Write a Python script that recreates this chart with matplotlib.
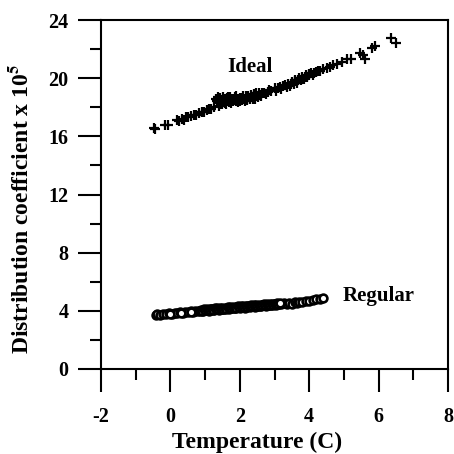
import numpy as np
import matplotlib
matplotlib.use('Agg')
import matplotlib.pyplot as plt
from matplotlib.ticker import MultipleLocator

# Ideal model points (Temperature, coefficient x 1e5)
ideal_x = [-0.48, -0.44, -0.15, -0.08, 0.18, 0.24, 0.32, 0.38, 0.45, 0.52,
           0.6, 0.68, 0.75, 0.82, 0.9, 0.98, 1.05, 1.1, 1.18, 1.25,
           1.32, 1.36, 1.4, 1.42, 1.45, 1.48, 1.5, 1.52, 1.55, 1.58,
           1.6, 1.62, 1.65, 1.68, 1.7, 1.74, 1.78, 1.8, 1.85, 1.88,
           1.92, 1.95, 2.0, 2.05, 2.1, 2.15, 2.2, 2.25, 2.3, 2.35,
           2.4, 2.45, 2.5, 2.55, 2.6, 2.7, 2.8, 2.9, 3.0, 3.05,
           3.15, 3.2, 3.3, 3.4, 3.45, 3.5, 3.55, 3.6, 3.65, 3.7,
           3.75, 3.8, 3.85, 3.9, 3.95, 4.0, 4.1, 4.2, 4.3, 4.4,
           4.5, 4.6, 4.7, 4.8, 4.95, 5.1, 5.2, 5.45, 5.55, 5.6,
           5.8, 5.9, 6.35, 6.5,
           1.34, 1.38, 1.44, 1.47, 1.53, 1.57, 1.63, 1.66, 1.72, 1.76,
           1.82, 1.87, 1.9, 1.97, 2.02, 2.07, 2.12, 2.18, 2.22, 2.28,
           2.33, 2.38, 2.42, 2.48, 2.52, 2.58, 2.65, 2.75, 2.85, 3.1,
           3.25, 3.35, 3.48, 3.58, 3.68, 3.78, 3.88, 3.98, 4.05, 4.15,
           4.25]
ideal_y = [16.55, 16.5, 16.75, 16.8, 17.1, 17.05, 17.2, 17.15, 17.3, 17.35,
           17.4, 17.5, 17.45, 17.6, 17.65, 17.7, 17.8, 17.9, 17.85, 18.0,
           18.6, 18.55, 18.1, 18.65, 18.3, 18.5, 18.2, 18.7, 18.4, 18.6,
           18.25, 18.5, 18.7, 18.35, 18.55, 18.3, 18.6, 18.45, 18.7, 18.4,
           18.55, 18.35, 18.65, 18.5, 18.75, 18.45, 18.6, 18.8, 18.55, 18.7,
           18.9, 18.6, 18.8, 19.0, 18.75, 18.95, 19.05, 19.1, 19.3, 19.15,
           19.4, 19.25, 19.5, 19.6, 19.45, 19.75, 19.6, 19.9, 19.7, 20.0,
           19.85, 20.1, 19.95, 20.2, 20.05, 20.3, 20.25, 20.45, 20.5, 20.6,
           20.7, 20.75, 20.9, 21.0, 21.1, 21.35, 21.3, 21.7, 21.6, 21.35,
           22.1, 22.2, 22.75, 22.45,
           18.45, 18.7, 18.6, 18.2, 18.45, 18.3, 18.65, 18.45, 18.7, 18.45,
           18.6, 18.5, 18.75, 18.55, 18.4, 18.65, 18.55, 18.75, 18.5, 18.65,
           18.85, 18.6, 18.75, 18.95, 18.7, 18.85, 19.0, 18.9, 19.2, 19.3,
           19.45, 19.4, 19.6, 19.8, 19.85, 19.95, 20.1, 20.2, 20.35, 20.35,
           20.5]

# Regular solution model points
regular_x = [-0.42, -0.38, -0.3, -0.22, -0.12, -0.05, 0.05, 0.12, 0.2, 0.28,
             0.35, 0.42, 0.5, 0.58, 0.65, 0.72, 0.8, 0.88, 0.95, 1.02,
             1.1, 1.18, 1.25, 1.32, 1.4, 1.48, 1.55, 1.62, 1.7, 1.78,
             1.85, 1.92, 2.0, 2.08, 2.15, 2.22, 2.3, 2.38, 2.45, 2.52,
             2.6, 2.68, 2.75, 2.82, 2.9, 2.98, 3.05, 3.12, 3.2, 3.28,
             3.35, 3.42, 3.5, 3.58, 3.65, 3.72, 3.8, 3.9, 4.0, 4.1,
             4.2, 4.3, 4.4,
             0.0, 0.3, 0.6, 0.85,
             0.92, 0.97, 1.0, 1.05, 1.08, 1.13, 1.15, 1.2, 1.22, 1.28,
             1.3, 1.35, 1.38, 1.42, 1.45, 1.5, 1.52, 1.58, 1.6, 1.65,
             1.68, 1.72, 1.75, 1.8, 1.83, 1.88, 1.9, 1.95, 1.98, 2.03,
             2.05, 2.1, 2.13, 2.18, 2.2, 2.26, 2.28, 2.33, 2.35, 2.4,
             2.43, 2.48, 2.5, 2.56, 2.58, 2.63, 2.65, 2.7, 2.73, 2.78,
             2.8, 2.86, 2.88, 2.93, 2.95, 3.0, 3.03, 3.08, 3.1, 3.16]
regular_y = [3.72, 3.78, 3.7, 3.8, 3.76, 3.84, 3.8, 3.88, 3.82, 3.9,
             3.86, 3.95, 3.9, 3.98, 3.92, 4.0, 3.96, 4.05, 4.0, 4.08,
             4.02, 4.1, 4.05, 4.14, 4.08, 4.16, 4.12, 4.2, 4.14, 4.22,
             4.18, 4.26, 4.2, 4.28, 4.22, 4.3, 4.26, 4.34, 4.28, 4.36,
             4.32, 4.4, 4.34, 4.42, 4.38, 4.46, 4.4, 4.48, 4.44, 4.52,
             4.46, 4.55, 4.5, 4.58, 4.54, 4.62, 4.58, 4.66, 4.7, 4.75,
             4.78, 4.82, 4.86,
             3.78, 3.84, 3.94, 3.98,
             4.02, 4.1, 4.04, 4.12, 4.06, 4.13, 4.07, 4.15, 4.09, 4.17,
             4.1, 4.18, 4.12, 4.2, 4.14, 4.21, 4.15, 4.22, 4.16, 4.24,
             4.18, 4.25, 4.19, 4.27, 4.2, 4.28, 4.22, 4.3, 4.24, 4.31,
             4.25, 4.33, 4.26, 4.34, 4.28, 4.36, 4.3, 4.37, 4.31, 4.38,
             4.32, 4.4, 4.34, 4.41, 4.35, 4.43, 4.37, 4.44, 4.38, 4.46,
             4.4, 4.47, 4.41, 4.49, 4.43, 4.5, 4.44, 4.52, 4.46, 4.53]

plt.rcParams['font.family'] = ['Liberation Serif', 'DejaVu Serif']
plt.rcParams['font.weight'] = 'bold'
plt.rcParams['mathtext.fontset'] = 'stix'
plt.rcParams['axes.unicode_minus'] = False

fig = plt.figure(figsize=(4.54, 4.54), dpi=100)
ax = fig.add_axes([101 / 454, 85 / 454, 347 / 454, 349 / 454])

ax.plot(ideal_x, ideal_y, linestyle='none', marker='+', color='black',
        markersize=7, markeredgewidth=1.6)
ax.plot(regular_x, regular_y, linestyle='none', marker='o', color='black',
        markerfacecolor='white', markersize=5.6, markeredgewidth=1.9)

ax.text(2.3, 20.8, 'Ideal', fontsize=15, fontweight='bold', ha='center', va='center')
ax.text(6.0, 5.05, 'Regular', fontsize=15, fontweight='bold', ha='center', va='center')

ax.set_xlim(-2, 8)
ax.set_ylim(0, 24)
ax.xaxis.set_major_locator(MultipleLocator(2))
ax.xaxis.set_minor_locator(MultipleLocator(1))
ax.yaxis.set_major_locator(MultipleLocator(4))
ax.yaxis.set_minor_locator(MultipleLocator(2))
ax.tick_params(which='major', direction='out', length=16.5, width=1.5,
               labelsize=14.5, top=False, right=False)
ax.tick_params(which='minor', direction='out', length=8, width=1.5,
               top=False, right=False)
ax.tick_params(axis='x', which='major', pad=11)
ax.tick_params(axis='y', which='major', pad=7)
for lab in ax.get_xticklabels() + ax.get_yticklabels():
    lab.set_fontweight('bold')
for sp in ax.spines.values():
    sp.set_linewidth(1.5)

ax.set_xlabel('Temperature (C)', fontsize=17, fontweight='bold')
ax.set_ylabel('Distribution coefficient x 10$^5$', fontsize=17, fontweight='bold')
ax.xaxis.set_label_coords(0.45, -0.18)
ax.yaxis.set_label_coords(-0.196, 0.46)

fig.savefig('out.png', dpi=100)
